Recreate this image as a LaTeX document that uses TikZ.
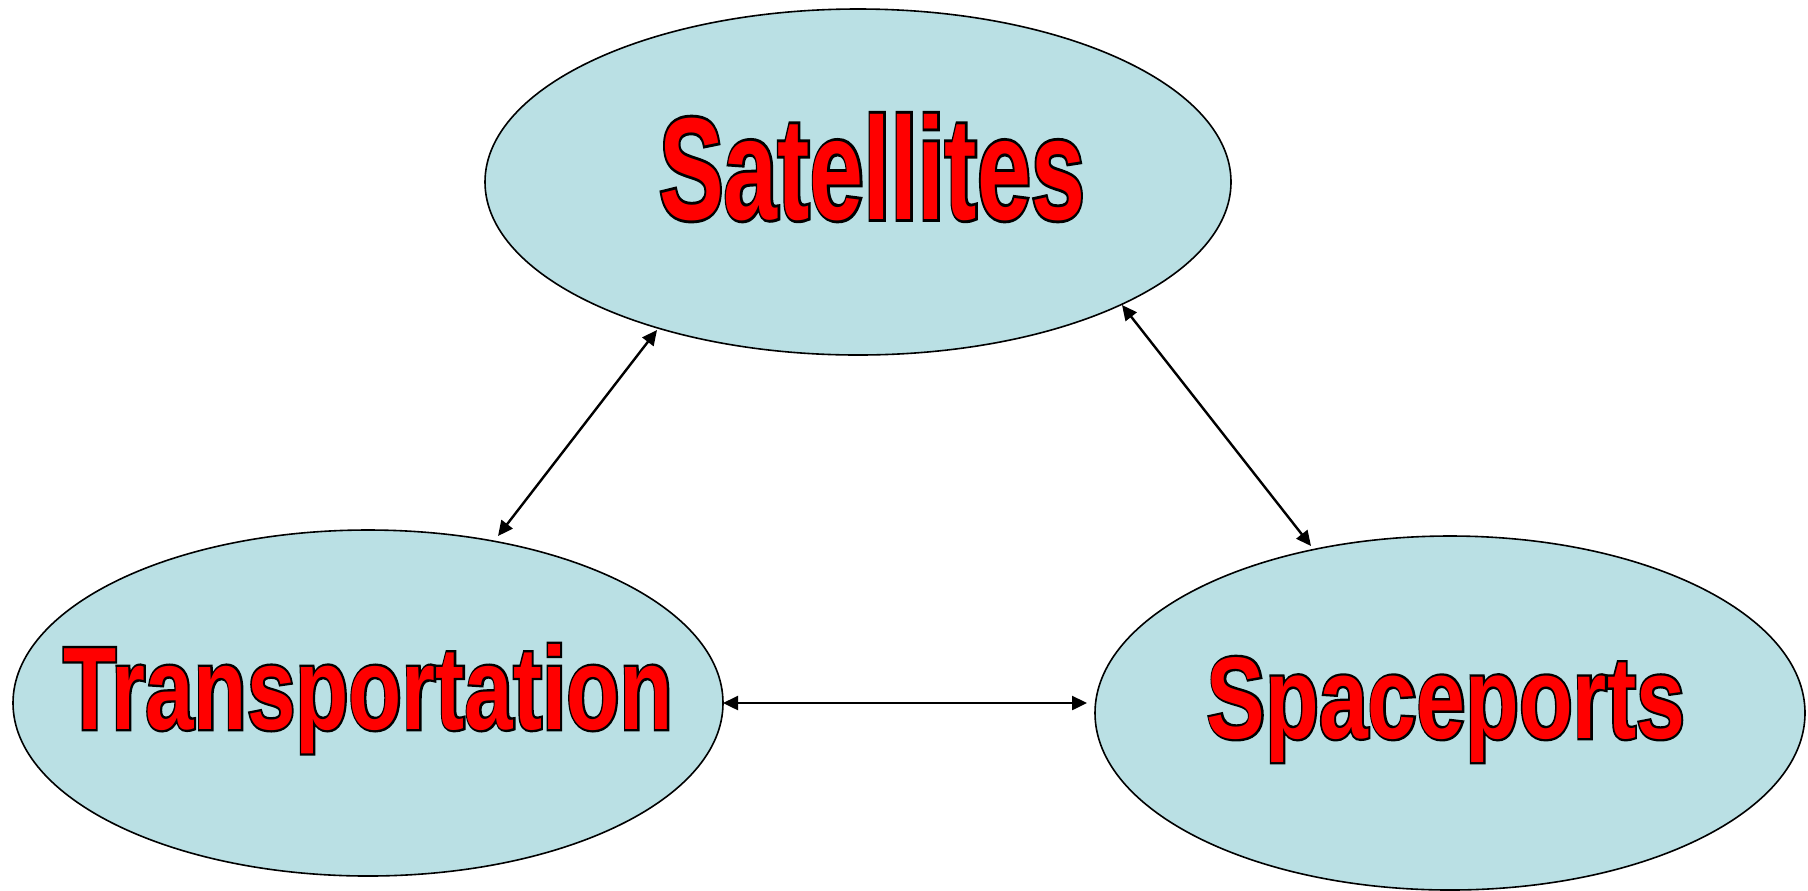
\documentclass[tikz,border=0pt]{standalone}
\usepackage{fontspec}
\usetikzlibrary{shapes.geometric,arrows.meta}
\newfontfamily\olfont{Liberation Sans Bold}[FakeBold=4]
\newfontfamily\flfont{Liberation Sans Bold}
\newcommand\outlined[1]{\rlap{\color{black}\olfont#1}{\color{red}\flfont#1}}
\definecolor{ellfill}{RGB}{186,224,228}
\begin{document}
\begin{tikzpicture}[x=0.5pt,y=-0.5pt,
  ell/.style={ellipse,draw=black,line width=0.8pt,fill=ellfill,inner sep=0pt},
  lab/.style={anchor=base,inner sep=0pt},
  conn/.style={line width=1.2pt,{Triangle[length=7.5pt,width=7pt]}-{Triangle[length=7.5pt,width=7pt]}}]
\useasboundingbox (0,0) rectangle (1808,890);
\node[ell,minimum width=373pt,minimum height=173pt] (sat) at (858,182) {};
\node[ell,minimum width=355pt,minimum height=173pt] (trans) at (368,703) {};
\node[ell,minimum width=355pt,minimum height=177pt] (spc) at (1450,713) {};
\node[lab,xscale=0.668,font=\fontsize{72.6}{80}\selectfont] (satl) at (872,219) {\outlined{Satellites}};
\node[lab,xscale=0.742,font=\fontsize{58.7}{64}\selectfont] (transl) at (368,729) {\outlined{Transportation}};
\node[lab,xscale=0.757,font=\fontsize{58}{64}\selectfont] (spcl) at (1446,738) {\outlined{Spaceports}};
\coordinate (s1) at (657,330);
\coordinate (t1) at (498,536);
\coordinate (s2) at (1122,305);
\coordinate (p1) at (1311,546);
\coordinate (t2) at (723,703);
\coordinate (p2) at (1087,703);
\draw[conn] (s1) -- (t1);
\draw[conn] (s2) -- (p1);
\draw[conn] (t2) -- (p2);
\end{tikzpicture}
\end{document}
